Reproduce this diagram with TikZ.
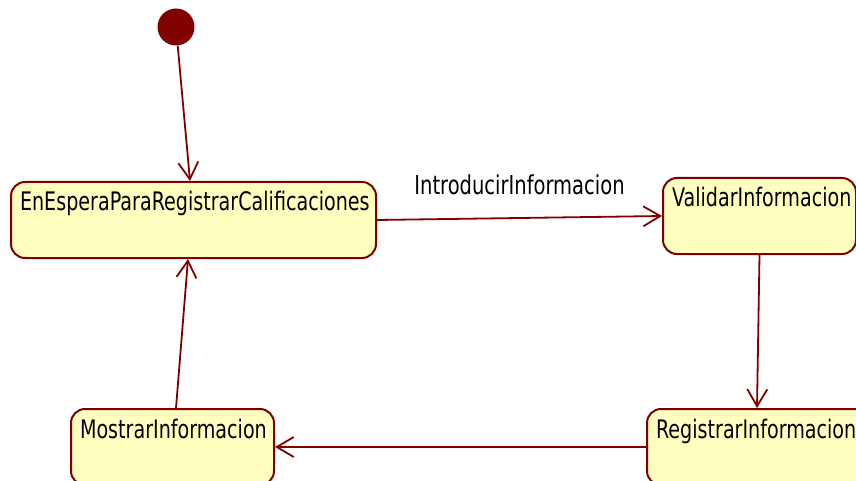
\documentclass[tikz,border=0pt]{standalone}
\usepackage{fontspec}
\newfontfamily\statefont[FakeStretch=0.75]{DejaVu Sans}
\usetikzlibrary{arrows.meta}
\hyphenpenalty=10000
\exhyphenpenalty=10000
\definecolor{umlred}{RGB}{128,0,0}
\definecolor{umlfill}{RGB}{255,255,192}
\tikzset{
  state/.style={draw=umlred, fill=umlfill, line width=2pt, rounded corners=14pt,
    anchor=north west, inner xsep=9pt, inner ysep=0pt, align=left,
    text height=29pt, text depth=47pt,
    font=\statefont\fontsize{25.5}{30}\selectfont},
  initial/.style={circle, fill=umlred, minimum size=37pt, inner sep=0pt},
  trans/.style={draw=umlred, line width=1.8pt, -{Straight Barb[length=17pt,width=20pt,line width=1.8pt]}},
  translabel/.style={font=\statefont\fontsize{26}{30}\selectfont, inner sep=0pt}
}
\begin{document}
\begin{tikzpicture}[x=1pt, y=-1pt]
      \useasboundingbox (0,0) rectangle (856,481);
      \node[initial] (start) at (176,27) {};
      \node[state, text width=347pt] (espera) at (10,181) {EnEsperaParaRegistrarCalificaciones};
      \node[state, text width=175pt] (validar) at (662,177) {ValidarInformacion};
      \node[state, text width=206pt] (registrar) at (646,408) {RegistrarInformacion};
      \node[state, text width=185pt] (mostrar) at (70,408) {MostrarInformacion};
      \begin{scope}[trans]
        \draw (start) -- ([xshift=180pt]espera.north west);
        \draw (espera.east) -- node[translabel, above=22pt] (introducir) {IntroducirInformacion} (validar.west);
        \draw (validar.south) -- ([xshift=111pt]registrar.north west);
        \draw (registrar.west) -- (mostrar.east);
        \draw ([xshift=106pt]mostrar.north west) -- ([xshift=178pt]espera.south west);
      \end{scope}
    \end{tikzpicture}
\end{document}
